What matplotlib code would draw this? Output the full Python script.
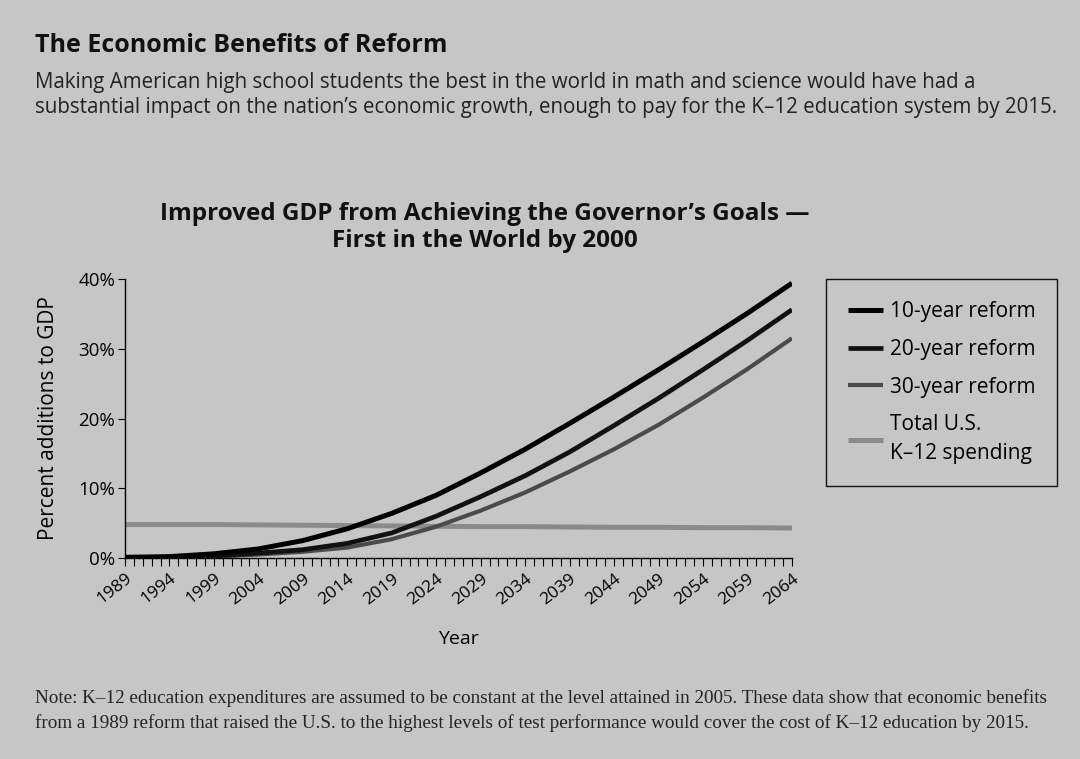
import matplotlib
matplotlib.use('Agg')
import matplotlib.pyplot as plt
from matplotlib.ticker import MultipleLocator, FuncFormatter

# Data (percent additions to GDP, every 5 years)
years = [1989, 1994, 1999, 2004, 2009, 2014, 2019, 2024, 2029, 2034, 2039, 2044, 2049, 2054, 2059, 2064]
reform_10 = [0.1, 0.2, 0.6, 1.3, 2.5, 4.2, 6.4, 9.0, 12.2, 15.6, 19.3, 23.1, 27.0, 31.0, 35.1, 39.4]
reform_20 = [0.05, 0.1, 0.3, 0.7, 1.2, 2.1, 3.6, 6.0, 8.8, 11.8, 15.2, 19.0, 22.9, 27.0, 31.2, 35.6]
reform_30 = [0.0, 0.1, 0.2, 0.5, 0.9, 1.5, 2.7, 4.5, 6.8, 9.4, 12.4, 15.6, 19.1, 23.0, 27.1, 31.5]
k12_spending = [4.8, 4.8, 4.8, 4.75, 4.7, 4.65, 4.6, 4.55, 4.5, 4.5, 4.45, 4.4, 4.4, 4.35, 4.35, 4.3]
tick_years = years

bg = '#c6c6c6'
sans = ['Open Sans', 'DejaVu Sans']
serif = ['Liberation Serif', 'DejaVu Serif']
plt.rcParams['font.family'] = sans

fig = plt.figure(figsize=(10.8, 7.59), dpi=100, facecolor=bg)

# Header text
fig.text(0.032, 0.957, 'The Economic Benefits of Reform', fontsize=18, fontweight='bold',
         color='#111111', va='top')
fig.text(0.032, 0.891, 'Making American high school students the best in the world in math and science would have had a',
         fontsize=14.8, color='#222222', va='center')
fig.text(0.032, 0.858, 'substantial impact on the nation\u2019s economic growth, enough to pay for the K\u201312 education system by 2015.',
         fontsize=14.8, color='#222222', va='center')

# Chart title
fig.text(0.449, 0.700, 'Improved GDP from Achieving the Governor\u2019s Goals \u2014\nFirst in the World by 2000',
         fontsize=17.5, fontweight='bold', ha='center', va='center', linespacing=1.15, color='#111111')

ax = fig.add_axes([0.1157, 0.2648, 0.6176, 0.3676])
ax.set_facecolor(bg)
ax.plot(years, k12_spending, color='#8a8a8a', lw=3.6, solid_capstyle='butt', label='Total U.S.\nK\u201312 spending')
ax.plot(years, reform_30, color='#4a4a4a', lw=3.0, solid_capstyle='butt', label='30-year reform')
ax.plot(years, reform_20, color='#111111', lw=3.4, solid_capstyle='butt', label='20-year reform')
ax.plot(years, reform_10, color='#000000', lw=3.6, solid_capstyle='butt', label='10-year reform')

ax.set_xlim(1989, 2064)
ax.set_ylim(0, 40)
for s in ['top', 'right']:
    ax.spines[s].set_visible(False)
ax.spines['left'].set_linewidth(1.0)
ax.spines['bottom'].set_linewidth(1.0)
ax.set_xticks(tick_years)
ax.xaxis.set_minor_locator(MultipleLocator(1))
ax.tick_params(axis='x', which='both', length=6, width=0.8, direction='out', pad=3)
ax.tick_params(axis='y', length=5, width=0.8, direction='out', pad=2)
ax.set_yticks([0, 10, 20, 30, 40])
ax.yaxis.set_major_formatter(FuncFormatter(lambda v, p: '%d%%' % v))
for lab in ax.get_xticklabels():
    lab.set_rotation(38)
    lab.set_ha('right')
    lab.set_rotation_mode('anchor')
    lab.set_fontsize(12.5)
for lab in ax.get_yticklabels():
    lab.set_fontsize(13.5)
ax.set_xlabel('Year', fontsize=14, labelpad=16)
ax.set_ylabel('Percent additions to GDP', fontsize=15, labelpad=14)

h, l = ax.get_legend_handles_labels()
leg = fig.legend(h[::-1], l[::-1], loc='upper left', bbox_to_anchor=(0.765, 0.632),
                 fontsize=15, frameon=True, fancybox=False, edgecolor='#111111', facecolor=bg,
                 framealpha=1, handlelength=1.7, handletextpad=0.3, labelspacing=0.8,
                 borderpad=1.05, borderaxespad=0)
for t in leg.get_texts():
    t.set_linespacing(1.5)
leg.get_frame().set_linewidth(1.0)

# Note at the bottom
fig.text(0.032, 0.080, 'Note: K\u201312 education expenditures are assumed to be constant at the level attained in 2005. These data show that economic benefits',
         fontsize=13.8, family=serif, color='#222222', va='center')
fig.text(0.032, 0.048, 'from a 1989 reform that raised the U.S. to the highest levels of test performance would cover the cost of K\u201312 education by 2015.',
         fontsize=13.8, family=serif, color='#222222', va='center')

fig.savefig('out.png', dpi=100, facecolor=bg)
